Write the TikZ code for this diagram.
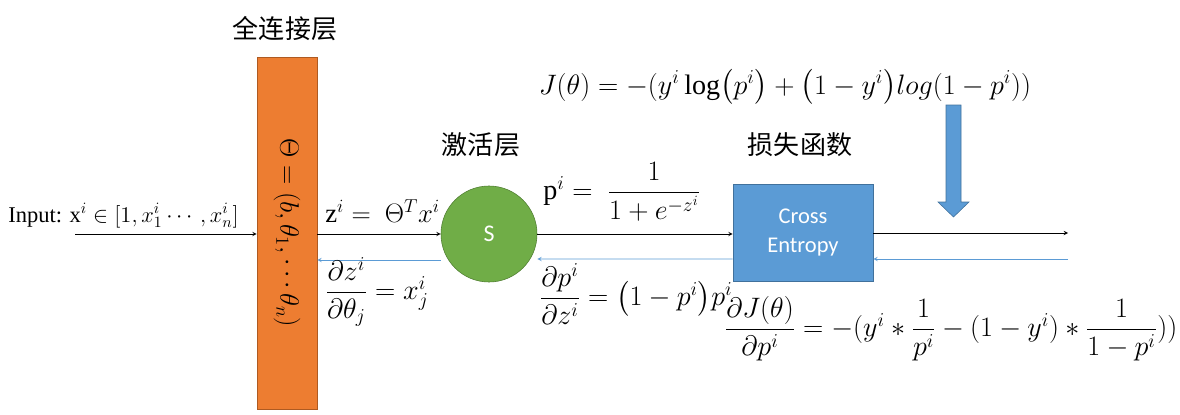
\RequirePackage{fix-cm}
\documentclass[tikz,border=0pt]{standalone}
\usepackage{amsmath}
\usepackage{fontspec}
\setmainfont{Liberation Serif}
\newfontfamily\cjk{Noto Sans CJK SC}
\newfontfamily\calibri{Carlito}
\usetikzlibrary{calc}
\definecolor{fcorange}{HTML}{ED7D31}
\definecolor{fcedge}{HTML}{AE5A21}
\definecolor{siggreen}{HTML}{70AD47}
\definecolor{sigedge}{HTML}{507E32}
\definecolor{ceblue}{HTML}{5B9BD5}
\definecolor{ceedge}{HTML}{41719C}
\begin{document}
\begin{tikzpicture}[x=0.025cm,y=-0.025cm,>=stealth,font=\fontsize{20}{24}\selectfont]
    \tikzset{fcbox/.style={draw=fcedge,fill=fcorange,minimum width=1.5cm,minimum height=8.8cm},
        sigcircle/.style={circle,draw=sigedge,fill=siggreen,minimum size=2.4cm,text=white,font=\calibri\fontsize{17}{20}\selectfont},
        cebox/.style={draw=ceedge,fill=ceblue,minimum width=3.5cm,minimum height=2.425cm,text=white,align=center,font=\calibri\fontsize{16}{21}\selectfont},
        layername/.style={font=\cjk\fontsize{18.5}{22}\selectfont},
        back/.style={->,draw=ceblue}
    }
    \useasboundingbox (0,0) rectangle (1180,415);
    % layers
    \node[fcbox] (fc) at (287,233) {};
    \node[rotate=-90,font=\fontsize{19}{22}\selectfont] (theta) at (fc.center) {$\Theta = (b,\theta_1,\cdots\theta_n)$};
    \node[sigcircle] (s) at (489,234) {S};
    \node[cebox] (ce) at (803,232.5) {Cross\\Entropy};
    \node[layername] (fcname) at (285,29) {全连接层};
    \node[layername] (sname) at (481,145) {激活层};
    \node[layername] (cename) at (800,145) {损失函数};
    \coordinate (in) at (75,234);
    \coordinate (out) at (1068,233);
    \coordinate (outb) at (1068,259);
    % forward
    \draw[->] (in) -- (in -| fc.west);
    \draw[->] (fc.east |- s) -- (s.west);
    \draw[->] (s.east) -- (s.east -| ce.west);
    \draw[->] (ce.east |- out) -- (out);
    % backward
    \draw[back] ($(s.west)+(0,26)$) -- ($(fc.east)+(0,27)$);
    \draw[back] ($(ce.west)+(0,26.5)$) -- ($(s.east)+(0,25)$);
    \draw[back] (outb) -- (outb -| ce.east);
    \draw[draw=ceedge,fill=ceblue] (946,105) -- (961,105) -- (961,202) -- (969,202) -- (953.5,217) -- (938,202) -- (946,202) -- cycle;
    % formulas
    \node[anchor=base west,inner sep=0pt,font=\fontsize{16}{19}\selectfont] (inlbl) at (8,222) {Input: $\mathrm{x}^i \in [1, x_1^i\cdots, x_n^i]$};
    \node[anchor=base west,inner sep=0pt,font=\fontsize{19}{22}\selectfont] (zlbl) at (325,222) {$\mathrm{z}^i =\ \Theta^T x^i$};
    \node (dzlbl) at (377,292) {$\dfrac{\partial z^i}{\partial\theta_j} = x_j^i$};
    \node (plbl) at (622,192) {$\mathrm{p}^i =\ \dfrac{1}{1+e^{-z^i}}$};
    \node (dplbl) at (636,294) {$\dfrac{\partial p^i}{\partial z^i} = \bigl(1-p^i\bigr)p^i$};
    \node (jlbl) at (785,87) {$J(\theta) = -(y^i\log\bigl(p^i\bigr) + \bigl(1-y^i\bigr)log(1-p^i))$};
    \node (djlbl) at (951,329) {$\dfrac{\partial J(\theta)}{\partial p^i} = -(y^i * \dfrac{1}{p^i} - (1-y^i) * \dfrac{1}{1-p^i}))$};
\end{tikzpicture}
\end{document}
